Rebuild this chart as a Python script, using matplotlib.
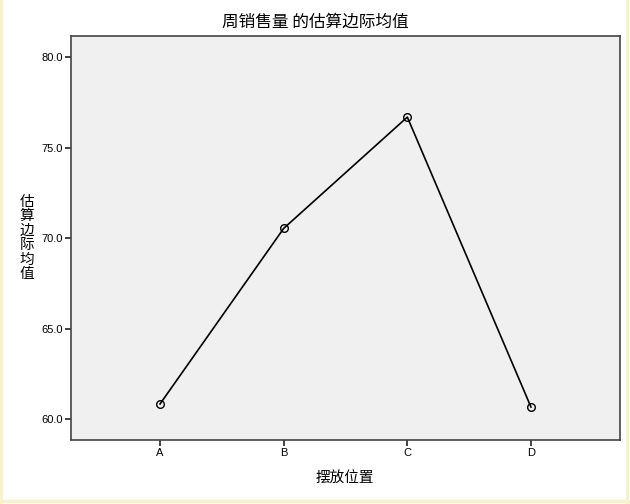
import matplotlib
matplotlib.use('Agg')
import matplotlib.pyplot as plt
from matplotlib.lines import Line2D

# estimated marginal means
positions = ['A', 'B', 'C', 'D']
means = [60.85, 70.55, 76.70, 60.68]
y_ticks = [60.0, 65.0, 70.0, 75.0, 80.0]

cjk = ['Noto Sans CJK SC', 'DejaVu Sans']

fig = plt.figure(figsize=(6.3, 5.04), dpi=100)
ax = fig.add_axes([71 / 630, 64 / 504, 549 / 630, 404 / 504])
ax.set_facecolor('#f0f0f0')

x = list(range(len(positions)))
ax.plot(x, means, color='black', linewidth=1.2, marker='o', markersize=5.5,
        markerfacecolor='none', markeredgecolor='black', markeredgewidth=1.0)

ax.set_xlim(-0.72, 3.72)
ax.set_ylim(58.86, 81.18)
ax.set_xticks(x)
ax.set_xticklabels(positions, fontfamily='Liberation Sans', fontsize=8)
ax.set_yticks(y_ticks)
ax.set_yticklabels(['%.1f' % v for v in y_ticks], fontfamily='Liberation Sans', fontsize=8)
ax.tick_params(direction='out', length=4, width=1.2, color='#222222', pad=2)

for side in ['left', 'bottom', 'right', 'top']:
    ax.spines[side].set_color('#444444')
    ax.spines[side].set_linewidth(1.2)

fig.text(315 / 630, 1 - 22 / 504, '周销售量 的估算边际均值', ha='center', va='center',
         fontsize=12, family=cjk)
fig.text(345 / 630, 1 - 478 / 504, '摆放位置', ha='center', va='center',
         fontsize=10.5, family=cjk)
fig.text(27 / 630, 1 - 238 / 504, '估\n算\n边\n际\n均\n值', ha='center', va='center',
         fontsize=10.5, family=cjk, linespacing=1.05)

# pale yellow frame at the window edge
edge = '#f8f0c6'
fig.add_artist(Line2D([0.002, 0.002], [0, 1], color=edge, linewidth=2, transform=fig.transFigure))
fig.add_artist(Line2D([0.996, 0.996], [0, 1], color=edge, linewidth=2, transform=fig.transFigure))
fig.add_artist(Line2D([0, 1], [0.005, 0.005], color=edge, linewidth=2.5, transform=fig.transFigure))

fig.savefig('out.png', dpi=100)
